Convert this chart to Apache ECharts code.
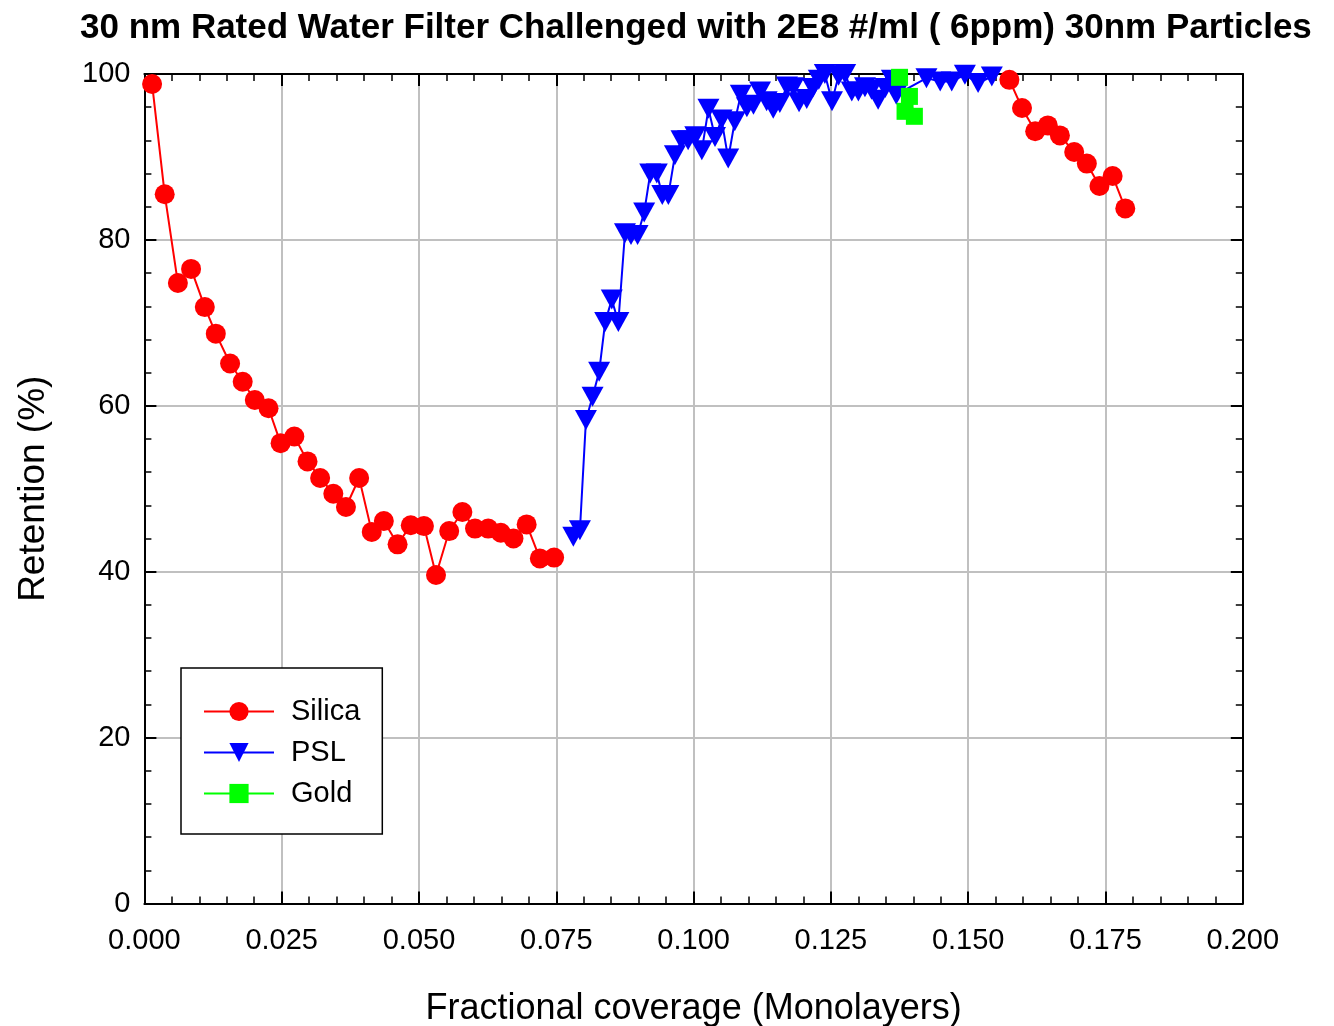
<!DOCTYPE html>
<html>
<head>
<meta charset="utf-8">
<script src="https://cdn.jsdelivr.net/npm/echarts@6/dist/echarts.min.js"></script>
<style>
  html, body { margin: 0; padding: 0; background: #fff; }
  #chart { width: 1334px; height: 1026px; }
</style>
</head>
<body>
<div id="chart"></div>
<script>
// Retention vs. fractional coverage for three challenge particle types
const xTicks = [0, 0.025, 0.05, 0.075, 0.1, 0.125, 0.15, 0.175, 0.2];
const yTicks = [0, 20, 40, 60, 80, 100];

// Silica: early run (low coverage)
const silicaLowX = [0.0014, 0.0037, 0.0061, 0.0085, 0.0110, 0.0130, 0.0156, 0.0179, 0.0201, 0.0226,
  0.0248, 0.0273, 0.0297, 0.0320, 0.0344, 0.0367, 0.0391, 0.0414, 0.0436, 0.0461,
  0.0485, 0.0509, 0.0531, 0.0555, 0.0579, 0.0602, 0.0626, 0.0649, 0.0672, 0.0696,
  0.0720, 0.0746];
const silicaLowY = [98.8, 85.5, 74.8, 76.5, 71.9, 68.7, 65.1, 62.9, 60.7, 59.7,
  55.5, 56.3, 53.3, 51.3, 49.4, 47.8, 51.3, 44.8, 46.1, 43.3,
  45.6, 45.5, 39.6, 44.9, 47.2, 45.2, 45.2, 44.7, 44.0, 45.7,
  41.6, 41.7];
// Silica: late run (high coverage)
const silicaHighX = [0.1575, 0.1598, 0.1622, 0.1645, 0.1667, 0.1693, 0.1716, 0.1739, 0.1763, 0.1786];
const silicaHighY = [99.3, 95.9, 93.1, 93.8, 92.6, 90.6, 89.2, 86.5, 87.7, 83.8];

// PSL
const pslX = [0.0781, 0.0793, 0.0804, 0.0816, 0.0828, 0.0839, 0.0851, 0.0863, 0.0875, 0.0886,
  0.0898, 0.0910, 0.0921, 0.0933, 0.0943, 0.0954, 0.0966, 0.0978, 0.0990, 0.1003,
  0.1015, 0.1027, 0.1039, 0.1051, 0.1063, 0.1075, 0.1086, 0.1097, 0.1109, 0.1121,
  0.1133, 0.1145, 0.1157, 0.1170, 0.1182, 0.1192, 0.1206, 0.1217, 0.1228, 0.1239,
  0.1252, 0.1264, 0.1276, 0.1288, 0.1300, 0.1312, 0.1324, 0.1336, 0.1349, 0.1361,
  0.1369, 0.1424, 0.1449, 0.1470, 0.1494, 0.1518, 0.1543];
const pslY = [44.2, 45.0, 58.3, 61.1, 64.1, 70.1, 72.8, 70.1, 80.8, 80.6,
  80.6, 83.3, 88.0, 88.0, 85.4, 85.4, 90.2, 92.0, 92.0, 92.5,
  90.8, 95.8, 92.4, 94.5, 89.8, 94.3, 97.5, 96.0, 96.3, 97.9,
  96.7, 95.8, 96.5, 98.5, 98.4, 96.6, 97.0, 98.3, 99.3, 100.0,
  96.7, 99.8, 100.0, 97.9, 97.9, 98.4, 98.1, 96.9, 98.3, 99.3,
  97.5, 99.5, 99.1, 99.1, 99.9, 98.9, 99.7];

// Gold
const goldX = [0.1375, 0.1385, 0.1393, 0.1402];
const goldY = [99.6, 95.5, 97.3, 94.9];

const pairs = (xs, ys) => xs.map((x, i) => [x, ys[i]]);

const FONT = '"Liberation Sans", Arial, sans-serif';
const AXIS_COLOR = '#000';

function frameAxis(extra) {
  return Object.assign({
    type: 'value',
    axisLine: { show: true, onZero: false, lineStyle: { color: AXIS_COLOR, width: 2 } },
    axisTick: { show: true, inside: true, length: 12, lineStyle: { color: AXIS_COLOR, width: 2 } },
    minorTick: { show: true, splitNumber: 5, length: 7, lineStyle: { color: AXIS_COLOR, width: 1.5 } },
    splitLine: { show: false },
    minorSplitLine: { show: false }
  }, extra);
}

const chart = echarts.init(document.getElementById('chart'), null, { renderer: 'canvas' });

chart.setOption({
  backgroundColor: '#fff',
  animation: false,
  title: {
    text: '30 nm Rated Water Filter Challenged with 2E8 #/ml ( 6ppm) 30nm Particles',
    left: 75,
    top: 6,
    textStyle: { fontFamily: FONT, fontWeight: 'bold', fontSize: 35, color: '#000' }
  },
  grid: {
    left: 144.4, right: 91.2, top: 74, bottom: 122.5,
    containLabel: false, outerBoundsMode: 'none'
  },
  legend: {
    orient: 'vertical',
    left: 181,
    top: 668,
    width: 203,
    padding: [29, 22, 26, 22],
    itemWidth: 70,
    itemHeight: 24,
    itemGap: 12,
    backgroundColor: '#fff',
    borderColor: '#000',
    borderWidth: 1.5,
    borderRadius: 0,
    textStyle: { fontFamily: FONT, fontSize: 29, color: '#000', padding: [0, 0, 0, 12] },
    data: ['Silica', 'PSL', 'Gold']
  },
  xAxis: [
    frameAxis({
      position: 'bottom',
      min: xTicks[0], max: xTicks[xTicks.length - 1], interval: xTicks[1] - xTicks[0],
      name: 'Fractional coverage (Monolayers)',
      nameLocation: 'middle',
      nameGap: 88,
      nameTextStyle: { fontFamily: FONT, fontSize: 36, color: '#000' },
      axisLabel: {
        margin: 23, fontFamily: FONT, fontSize: 29, color: '#000',
        formatter: v => v.toFixed(3)
      },
      splitLine: { show: true, lineStyle: { color: '#c0c0c0', width: 2 } }
    }),
    frameAxis({
      position: 'top',
      min: xTicks[0], max: xTicks[xTicks.length - 1], interval: xTicks[1] - xTicks[0],
      axisLabel: { show: false }
    })
  ],
  yAxis: [
    frameAxis({
      position: 'left',
      min: yTicks[0], max: yTicks[yTicks.length - 1], interval: yTicks[1] - yTicks[0],
      name: 'Retention (%)',
      nameLocation: 'middle',
      nameGap: 92,
      nameTextStyle: { fontFamily: FONT, fontSize: 37, color: '#000' },
      axisLabel: { margin: 14, fontFamily: FONT, fontSize: 29, color: '#000' },
      splitLine: { show: true, lineStyle: { color: '#c0c0c0', width: 2 } }
    }),
    frameAxis({
      position: 'right',
      min: yTicks[0], max: yTicks[yTicks.length - 1], interval: yTicks[1] - yTicks[0],
      axisLabel: { show: false }
    })
  ],
  series: [
    {
      name: 'Silica', type: 'line', xAxisIndex: 0, yAxisIndex: 0,
      data: pairs(silicaLowX, silicaLowY),
      symbol: 'circle', symbolSize: 20, clip: false,
      lineStyle: { color: '#ff0000', width: 2 },
      itemStyle: { color: '#ff0000' }
    },
    {
      name: 'Silica', type: 'line', xAxisIndex: 0, yAxisIndex: 0,
      data: pairs(silicaHighX, silicaHighY),
      symbol: 'circle', symbolSize: 20, clip: false,
      lineStyle: { color: '#ff0000', width: 2 },
      itemStyle: { color: '#ff0000' }
    },
    {
      name: 'PSL', type: 'line', xAxisIndex: 0, yAxisIndex: 0,
      data: pairs(pslX, pslY),
      symbol: 'triangle', symbolRotate: 180, symbolSize: [22, 20], clip: false,
      lineStyle: { color: '#0000ff', width: 2 },
      itemStyle: { color: '#0000ff' }
    },
    {
      name: 'Gold', type: 'line', xAxisIndex: 0, yAxisIndex: 0,
      data: pairs(goldX, goldY),
      symbol: 'rect', symbolSize: 17, clip: false,
      lineStyle: { color: '#00ff00', width: 2 },
      itemStyle: { color: '#00ff00' }
    }
  ]
});
</script>
</body>
</html>
